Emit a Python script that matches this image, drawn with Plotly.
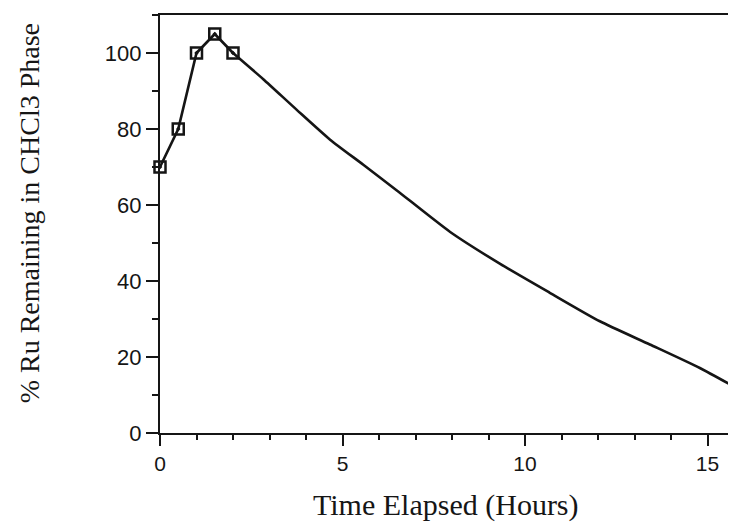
import plotly.graph_objects as go

# Measured data points (hours, % Ru remaining)
time_points = [0, 0.5, 1.0, 1.5, 2.0]
ru_points = [70, 80, 100, 105, 100]

# Smooth decay curve
curve_time = [2.0, 2.83, 3.74, 4.66, 5.57, 6.48, 7.95, 9.32, 10.68, 12.05, 13.42, 14.79, 15.8]
curve_ru = [100, 93.1, 85.1, 77.2, 70.6, 63.9, 52.9, 44.5, 36.9, 29.4, 23.3, 17.1, 11.8]

x_ticks = [0, 5, 10, 15]
y_ticks = [0, 20, 40, 60, 80, 100]

x_title = "Time Elapsed (Hours)"
y_title = "% Ru Remaining in CHCl3 Phase"

INK = "#151515"
SANS = "Liberation Sans, Arial, Helvetica, sans-serif"
SERIF = "Liberation Serif, Times New Roman, serif"

fig = go.Figure()

fig.add_trace(go.Scatter(
    x=curve_time, y=curve_ru, mode="lines",
    line=dict(color=INK, width=2.6, shape="spline", smoothing=0.6),
    cliponaxis=True, showlegend=False, hoverinfo="skip"))

fig.add_trace(go.Scatter(
    x=time_points, y=ru_points, mode="lines+markers",
    line=dict(color=INK, width=2.6),
    marker=dict(symbol="square-open-dot", size=11, color=INK,
                line=dict(width=2.5, color=INK)),
    cliponaxis=False, showlegend=False))

fig.update_layout(
    width=736, height=525,
    margin=dict(l=152, r=0, t=7, b=100),
    paper_bgcolor="white", plot_bgcolor="white",
    font=dict(family=SANS, color=INK, size=22),
    annotations=[
        dict(text=x_title, xref="paper", yref="paper", x=0.49, y=-0.172,
             xanchor="center", yanchor="middle", showarrow=False,
             font=dict(family=SERIF, size=30, color=INK)),
        dict(text=y_title, xref="paper", yref="paper", x=-0.223, y=0.525,
             xanchor="center", yanchor="middle", textangle=-90, showarrow=False,
             font=dict(family=SERIF, size=28, color=INK)),
    ],
)

fig.update_xaxes(
    range=[0, 16.0], tickvals=x_ticks, ticktext=[str(v) for v in x_ticks],
    showgrid=False, zeroline=False,
    showline=True, linecolor=INK, linewidth=2.2, mirror=True,
    ticks="outside", ticklen=11, tickwidth=2.2, tickcolor=INK,
    minor=dict(dtick=1, ticks="outside", ticklen=5, tickwidth=2.2, tickcolor=INK),
    tickfont=dict(size=21, family=SANS, color=INK),
)

fig.update_yaxes(
    range=[0, 110], tickvals=y_ticks, ticktext=[str(v) for v in y_ticks],
    showgrid=False, zeroline=False,
    showline=True, linecolor=INK, linewidth=2.2,
    ticks="outside", ticklen=12, tickwidth=2.2, tickcolor=INK,
    minor=dict(dtick=10, ticks="outside", ticklen=6, tickwidth=2.2, tickcolor=INK),
    tickfont=dict(size=22, family=SANS, color=INK),
)

fig.write_html("out.html")
